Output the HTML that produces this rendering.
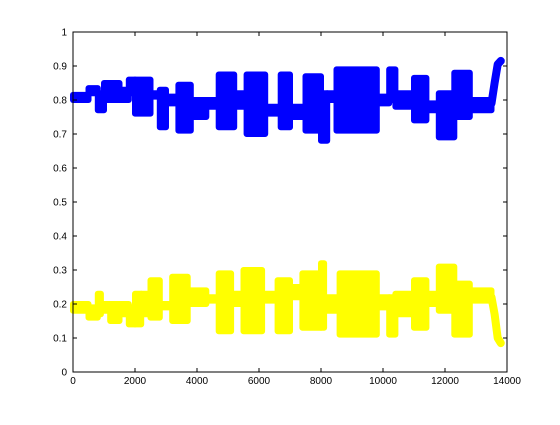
<!DOCTYPE html>
<html><head><meta charset="utf-8"><style>
body{margin:0;background:#fff;}
svg text{font-family:"Liberation Sans",sans-serif;font-size:10px;fill:#000;}
</style></head><body>
<svg id="chart" width="560" height="420" xmlns="http://www.w3.org/2000/svg">
<g id="series"></g>
<rect x="73" y="32" width="434" height="340" fill="none" stroke="#000" stroke-width="1"/>
<g id="axes"></g>
</svg>
<script>
const xTicks=[0,2000,4000,6000,8000,10000,12000,14000];
const yTicks=[0,0.1,0.2,0.3,0.4,0.5,0.6,0.7,0.8,0.9,1];
const yTickLabels=["0","0.1","0.2","0.3","0.4","0.5","0.6","0.7","0.8","0.9","1"];
// blue series segments: [xStart, xEnd, low, high]
const blueStart=[0,500,800,1000,1500,1800,2000,2500,2800,3000,3400,3800,4300,4700,5200,5600,6200,6700,7000,7500,8000,8200,8500,9800,10200,10400,11000,11400,11800,12300,12800];
const blueEnd=[500,800,1000,1500,1800,2000,2500,2800,3000,3400,3800,4300,4700,5200,5600,6200,6700,7000,7500,8000,8200,8500,9800,10200,10400,11000,11400,11800,12300,12800,13500];
const blueLow=[0.80,0.82,0.77,0.80,0.80,0.82,0.76,0.81,0.72,0.79,0.71,0.75,0.78,0.72,0.78,0.70,0.76,0.72,0.75,0.71,0.68,0.80,0.71,0.79,0.80,0.78,0.74,0.77,0.69,0.75,0.77];
const blueHigh=[0.815,0.835,0.82,0.85,0.83,0.86,0.86,0.82,0.83,0.81,0.845,0.80,0.80,0.875,0.82,0.875,0.78,0.875,0.78,0.87,0.82,0.82,0.89,0.81,0.89,0.82,0.865,0.79,0.82,0.88,0.80];
const blueTailX=[13500,13600,13700,13800];
const blueTailY=[0.79,0.85,0.905,0.915];
// yellow series segments
const yelStart=[0,500,800,900,1200,1500,1800,2000,2200,2500,2800,3200,3700,4300,4700,5100,5500,6100,6600,7000,7400,8000,8100,8600,9800,10200,10400,11000,11400,11800,12300,12800];
const yelEnd=[500,800,900,1200,1500,1800,2000,2200,2500,2800,3200,3700,4300,4700,5100,5500,6100,6600,7000,7400,8000,8100,8600,9800,10200,10400,11000,11400,11800,12300,12800,13500];
const yelLow=[0.18,0.16,0.17,0.18,0.15,0.17,0.14,0.14,0.17,0.16,0.19,0.15,0.20,0.21,0.12,0.20,0.12,0.21,0.12,0.22,0.13,0.13,0.18,0.11,0.19,0.11,0.17,0.13,0.20,0.18,0.11,0.21];
const yelHigh=[0.20,0.19,0.23,0.20,0.20,0.20,0.19,0.23,0.23,0.27,0.20,0.28,0.24,0.22,0.29,0.23,0.30,0.23,0.27,0.25,0.29,0.32,0.22,0.29,0.22,0.22,0.23,0.27,0.23,0.31,0.26,0.24];
const yelTailX=[13500,13600,13700,13800];
const yelTailY=[0.22,0.17,0.10,0.085];

const NS="http://www.w3.org/2000/svg";
const X=v=>73+v/14000*434;
const Y=v=>372-v*340;
const g=document.getElementById('series');
const ax=document.getElementById('axes');
function mk(t,a,p){const e=document.createElementNS(NS,t);for(const k in a)e.setAttribute(k,a[k]);p.appendChild(e);return e;}
function drawSeries(st,en,lo,hi,tx,ty,col,name){
  for(let i=0;i<st.length;i++){
    const r=mk('rect',{x:X(st[i]),y:Y(hi[i]),width:X(en[i])-X(st[i]),height:Y(lo[i])-Y(hi[i]),fill:col,stroke:col,'stroke-width':6,'stroke-linejoin':'round'},g);
    
    
  }
  const pts=tx.map((v,i)=>X(v)+','+Y(ty[i])).join(' ');
  const pl=mk('polyline',{points:pts,fill:'none',stroke:col,'stroke-width':8,'stroke-linejoin':'round','stroke-linecap':'round'},g);
  
  
}
drawSeries(blueStart,blueEnd,blueLow,blueHigh,blueTailX,blueTailY,'#0000ff','blue-series');
drawSeries(yelStart,yelEnd,yelLow,yelHigh,yelTailX,yelTailY,'#ffff00','yellow-series');
xTicks.forEach(v=>{
  const x=X(v);
  mk('line',{x1:x,y1:372,x2:x,y2:368,stroke:'#000'},ax);
  mk('line',{x1:x,y1:32,x2:x,y2:36,stroke:'#000'},ax);
  const t=mk('text',{x:x,y:384,'text-anchor':'middle'},ax);
  t.textContent=v;
  
  
});
yTicks.forEach((v,i)=>{
  const y=Y(v);
  mk('line',{x1:73,y1:y,x2:77,y2:y,stroke:'#000'},ax);
  mk('line',{x1:507,y1:y,x2:503,y2:y,stroke:'#000'},ax);
  const t=mk('text',{x:67,y:y+3.5,'text-anchor':'end'},ax);
  t.textContent=yTickLabels[i];
  
  
});
</script>
</body></html>
